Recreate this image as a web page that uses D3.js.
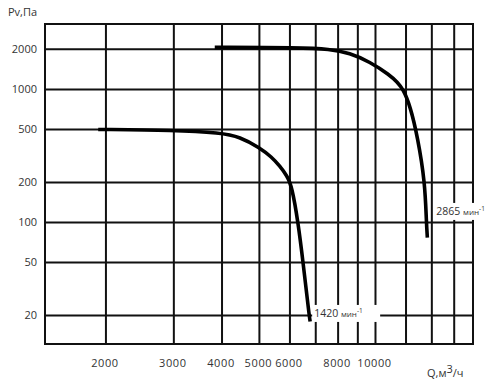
<!DOCTYPE html>
<html>
<head>
<meta charset="utf-8">
<script src="https://cdn.jsdelivr.net/npm/d3@7"></script>
<style>
    body { margin: 0; background: #fff; }
    text { font-family: "Open Sans", sans-serif; fill: #333; }
</style>
</head>
<body>
<div id="chart"></div>
<script>
//Data
var qTicks = [2000, 3000, 4000, 5000, 6000, 8000, 10000];
var qGrid = [2000, 3000, 4000, 5000, 6000, 7000, 8000, 9000, 10000, 12000, 14000, 16000];
var pTicks = [20, 50, 100, 200, 500, 1000, 2000];

var curve1420Q = [1910, 3000, 3970, 4450, 5010, 5380, 5650, 5890, 6070, 6300, 6490, 6730, 6770];
var curve1420P = [500, 494, 471, 440, 364, 310, 265, 225, 187, 100, 50, 20, 18];

var curve2865Q = [3830, 6360, 7610, 8570, 9660, 10890, 11400, 11800, 12300, 12860, 13440, 13550, 13630];
var curve2865P = [2070, 2056, 2010, 1876, 1614, 1282, 1130, 1000, 750, 439, 200, 100, 77];

//Width and height (plot box inside)
var w = 500;
var h = 386;
var plotL = 45, plotR = 473, plotT = 24, plotB = 344;

var svg = d3.select("#chart")
    .append("svg")
    .attr("width", w)
    .attr("height", h);

//Log scales on both axes
var x = d3.scaleLog().domain([1390, 17900]).range([plotL, plotR]);
var y = d3.scaleLog().domain([12.2, 3100]).range([plotB, plotT]);

//Grid
svg.append("g")
    .selectAll("line")
    .data(qGrid)
    .join("line")
    .attr("x1", d => x(d)).attr("x2", d => x(d))
    .attr("y1", plotT).attr("y2", plotB)
    .attr("stroke", "#111")
    .attr("stroke-width", 2);

svg.append("g")
    .selectAll("line")
    .data(pTicks)
    .join("line")
    .attr("x1", plotL).attr("x2", plotR)
    .attr("y1", d => y(d)).attr("y2", d => y(d))
    .attr("stroke", "#111")
    .attr("stroke-width", 2);

svg.append("rect")
    .attr("x", plotL).attr("y", plotT)
    .attr("width", plotR - plotL).attr("height", plotB - plotT)
    .attr("fill", "none")
    .attr("stroke", "#111")
    .attr("stroke-width", 2);

//Tick labels
svg.append("g")
    .selectAll("text")
    .data(pTicks)
    .join("text")
    .attr("x", 37)
    .attr("y", d => y(d))
    .attr("dy", "0.35em")
    .attr("text-anchor", "end")
    .style("font-size", "11px")
    .text(d => d);

svg.append("g")
    .selectAll("text")
    .data(qTicks)
    .join("text")
    .attr("x", d => x(d) - 1)
    .attr("y", 366.5)
    .attr("text-anchor", "middle")
    .style("font-size", "11px")
    .style("letter-spacing", "0.6px")
    .text(d => d);

//Axis titles
svg.append("text")
    .attr("x", 8)
    .attr("y", 16)
    .style("font-size", "11px")
    .text("Pv,Па");

var qt = svg.append("text")
    .attr("x", 427)
    .attr("y", 377)
    .style("font-size", "11px");
qt.append("tspan").text("Q,м");
qt.append("tspan").attr("dy", -4).text("3");
qt.append("tspan").attr("dy", 4).text("/ч");

//Curves (basis spline keeps the bends round)
var line = d3.line()
    .x(d => x(d[0]))
    .y(d => y(d[1]))
    .curve(d3.curveBasis);

[[curve1420Q, curve1420P], [curve2865Q, curve2865P]].forEach(c => {
    svg.append("path")
        .datum(c[0].map((q, i) => [q, c[1][i]]))
        .attr("d", line)
        .attr("fill", "none")
        .attr("stroke", "#000")
        .attr("stroke-width", 3.6);
});

//Curve labels with white background
function speedLabel(lx, ly, rpm, bw) {
    svg.append("rect")
        .attr("x", lx - 2).attr("y", ly - 12)
        .attr("width", bw).attr("height", 17)
        .attr("fill", "#fff");
    var t = svg.append("text")
        .attr("x", lx)
        .attr("y", ly)
        .style("font-size", "10.5px");
    t.append("tspan").text(rpm + " ");
    t.append("tspan").style("font-size", "8px").text("мин");
    t.append("tspan").style("font-size", "6.5px").attr("dy", -4).text("-1");
}

speedLabel(x(curve1420Q[curve1420Q.length - 1]) + 4, y(20) + 1.5, 1420, 68);
speedLabel(x(curve2865Q[curve2865Q.length - 1]) + 9, y(100) - 7.5, 2865, 64);
</script>
</body>
</html>
